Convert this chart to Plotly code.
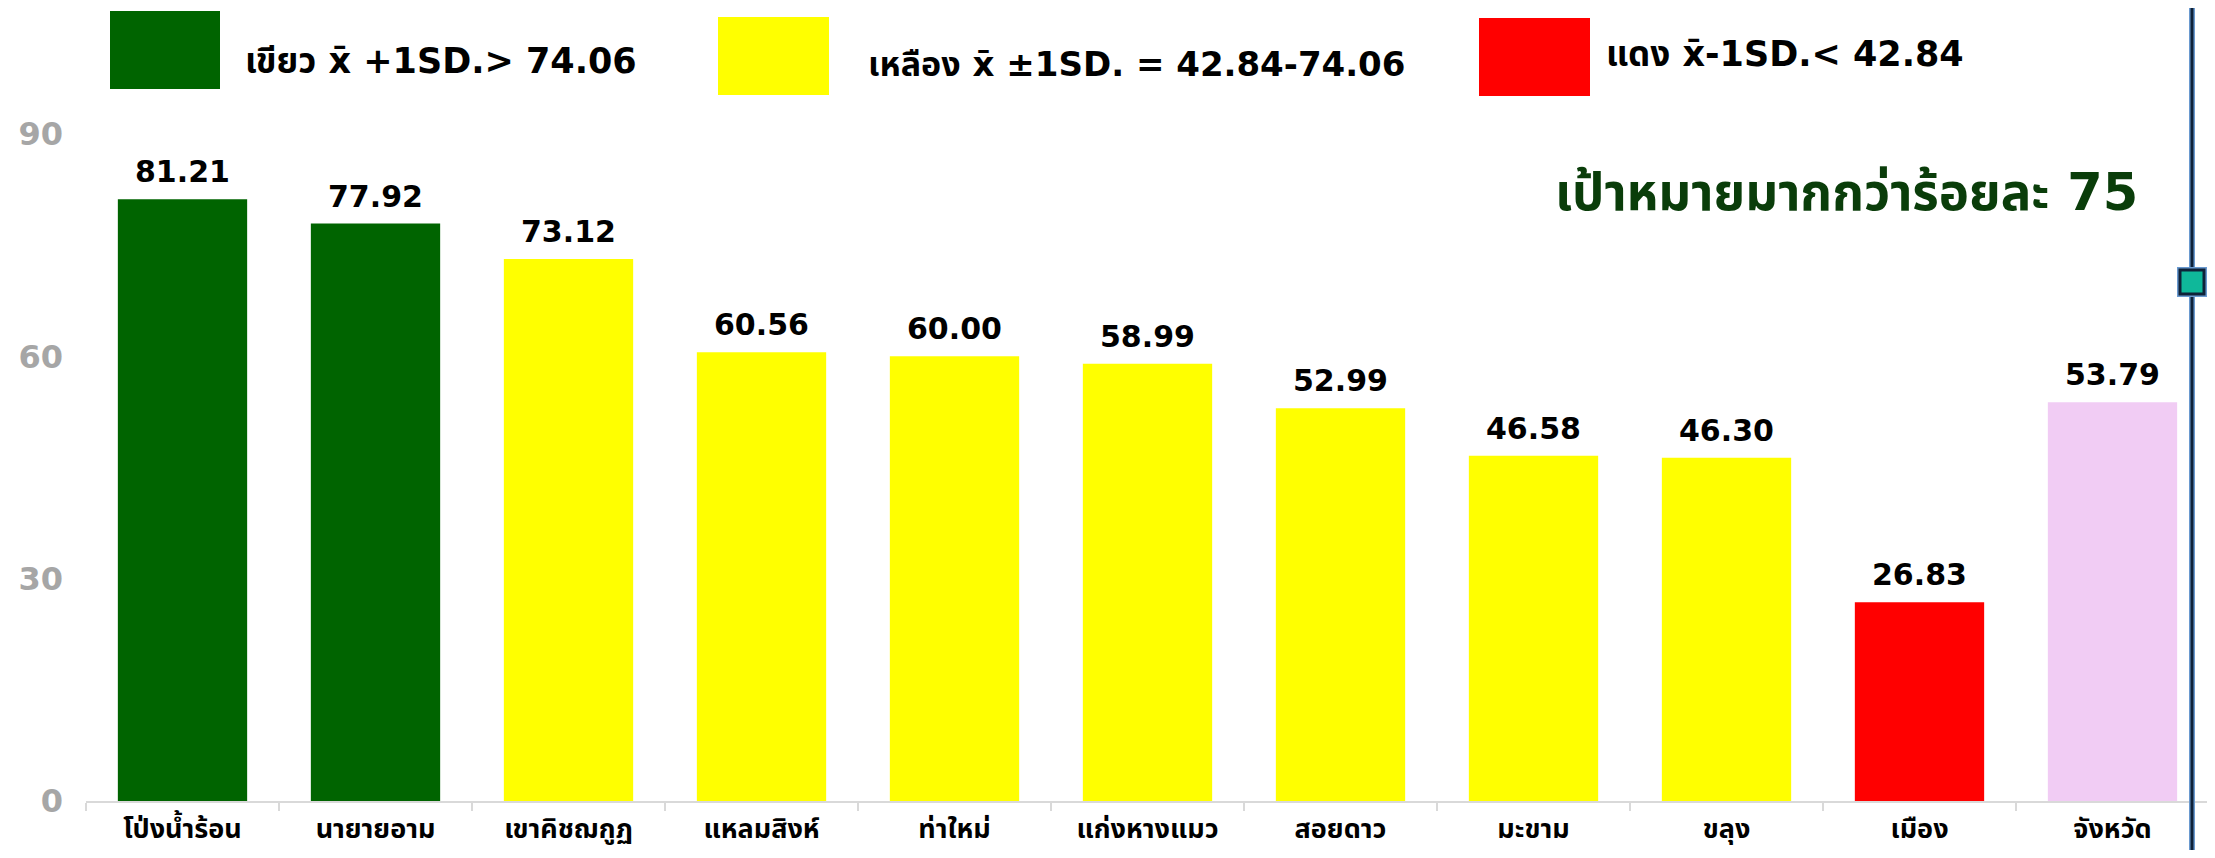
import plotly.graph_objects as go

# ---------------- data ----------------
categories = ["โป่งน้ำร้อน", "นายายอาม", "เขาคิชฌกูฏ", "แหลมสิงห์", "ท่าใหม่",
              "แก่งหางแมว", "สอยดาว", "มะขาม", "ขลุง", "เมือง", "จังหวัด"]
values = [81.21, 77.92, 73.12, 60.56, 60.00, 58.99, 52.99, 46.58, 46.30, 26.83, 53.79]
bar_colors = ["#006400", "#006400", "#FFFF00", "#FFFF00", "#FFFF00", "#FFFF00",
              "#FFFF00", "#FFFF00", "#FFFF00", "#FF0000", "#F1CCF4"]
y_ticks = [0, 30, 60, 90]

legend_items = [
    ("#006400", "เขียว x̄ +1SD.> 74.06"),
    ("#FFFF00", "เหลือง x̄ ±1SD. = 42.84-74.06"),
    ("#FF0000", "แดง x̄-1SD.< 42.84"),
]
target_text = "เป้าหมายมากกว่าร้อยละ 75"

# ---------------- layout geometry (page pixel coords) ----------------
OFF = 8                      # default body margin of the html page
W, H = 2215 - OFF, 858 - 2 * OFF
PLOT_L, PLOT_R, PLOT_T, PLOT_B = 86, 2209, 134, 801   # page coords of plot area
ML, MT = PLOT_L - OFF, PLOT_T - OFF
MR = W - (PLOT_R - OFF)
MB = H - (PLOT_B - OFF)
PW, PH = PLOT_R - PLOT_L, PLOT_B - PLOT_T

def px(x):
    return (x - PLOT_L) / PW

def py(y):
    return (PLOT_B - y) / PH

FONT = "Tahoma, 'DejaVu Sans', 'Noto Sans Thai', Loma, Garuda, sans-serif"
TICKFONT = "Tahoma, 'Noto Sans Thai', Loma, Garuda, 'DejaVu Sans', sans-serif"
NUMFONT = "Verdana, 'DejaVu Sans', sans-serif"

fig = go.Figure()
fig.add_trace(go.Bar(
    x=categories, y=values, marker=dict(color=bar_colors, line=dict(width=0)),
    hoverinfo="x+y",
))

annotations = []
for c, v in zip(categories, values):
    annotations.append(dict(
        x=c, y=v, xref="x", yref="y", text=f"<b>{v:.2f}</b>", showarrow=False,
        yanchor="bottom", xanchor="center", yshift=8,
        font=dict(family=NUMFONT, size=30, color="#000000"),
    ))

shapes = []
box_px = [(110, 220, 11, 89), (718, 829, 17, 95), (1479, 1590, 18, 96)]
text_px = [(243, 61), (866, 64), (1604, 54)]
text_sizes = [35, 34, 35]
for (col, txt), (x0, x1, y0, y1), (tx, ty), fs in zip(legend_items, box_px, text_px, text_sizes):
    shapes.append(dict(type="rect", xref="paper", yref="paper",
                       x0=px(x0), x1=px(x1), y0=py(y1), y1=py(y0),
                       fillcolor=col, line=dict(width=0)))
    annotations.append(dict(x=px(tx), y=py(ty), xref="paper", yref="paper",
                            text=f"<b>{txt}</b>", showarrow=False,
                            xanchor="left", yanchor="middle",
                            font=dict(family=FONT, size=fs, color="#000000")))

annotations.append(dict(x=px(1553), y=py(192), xref="paper", yref="paper",
                        text=f"<b>{target_text}</b>", showarrow=False,
                        xanchor="left", yanchor="middle",
                        font=dict(family=FONT, size=51, color="#0A3D0A")))

# vertical slider line on the right
lx = 2192
shapes.append(dict(type="line", xref="paper", yref="paper",
                   x0=px(lx), x1=px(lx), y0=py(870), y1=py(-10),
                   line=dict(color="#6A9AD0", width=6)))
shapes.append(dict(type="line", xref="paper", yref="paper",
                   x0=px(lx), x1=px(lx), y0=py(870), y1=py(-10),
                   line=dict(color="#0F2238", width=3)))
shapes.append(dict(type="rect", xref="paper", yref="paper",
                   x0=px(2177), x1=px(2207), y0=py(297), y1=py(267),
                   fillcolor="#6A9AD0", line=dict(width=0)))
shapes.append(dict(type="rect", xref="paper", yref="paper",
                   x0=px(2180), x1=px(2204), y0=py(294), y1=py(270),
                   fillcolor="#0FB89A", line=dict(color="#0F2238", width=3)))

fig.update_layout(
    width=W, height=H,
    margin=dict(l=ML, r=MR, t=MT, b=MB, pad=0, autoexpand=False),
    paper_bgcolor="#FFFFFF", plot_bgcolor="#FFFFFF",
    bargap=0.33, showlegend=False,
    shapes=shapes, annotations=annotations,
    xaxis=dict(
        automargin=False,
        showline=True, linecolor="#D9D9D9", linewidth=2,
        ticks="outside", tickson="boundaries", ticklen=8, tickcolor="#D9D9D9", tickwidth=2,
        ticklabelstandoff=3,
        tickfont=dict(family=TICKFONT, size=27, color="#000000", weight="bold"),
        showgrid=False, zeroline=False, fixedrange=True,
    ),
    yaxis=dict(
        automargin=False,
        range=[0, 90], tickvals=y_ticks, ticktext=[str(t) for t in y_ticks],
        showgrid=False, zeroline=False, showline=False, ticks="",
        ticklabelstandoff=22,
        tickfont=dict(family=NUMFONT, size=32, color="#A6A6A6", weight="bold"),
        fixedrange=True,
    ),
)

fig.write_html("out.html", config={"displayModeBar": False})
